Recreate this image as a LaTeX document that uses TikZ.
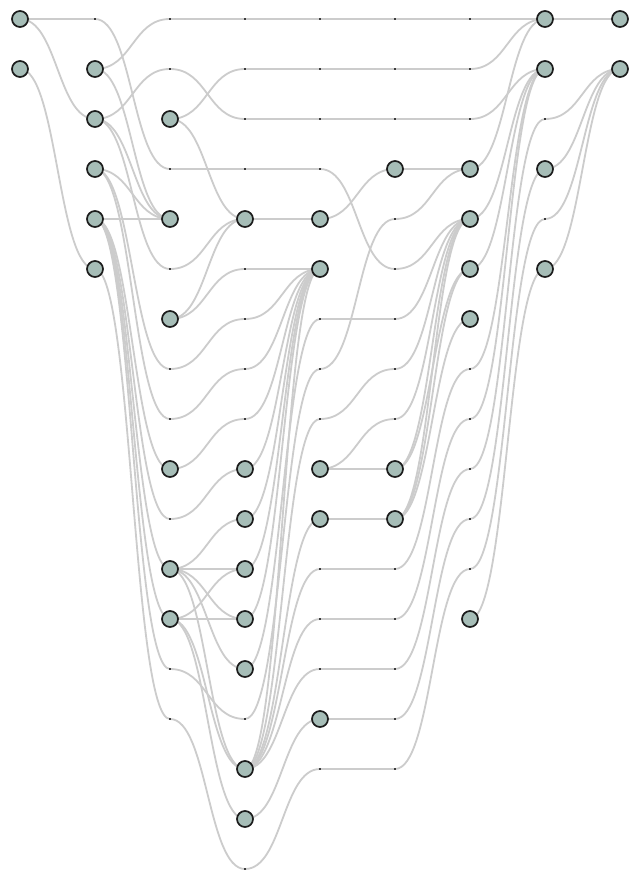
\documentclass[tikz,border=0pt]{standalone}
\usetikzlibrary{calc}
\pgfdeclarelayer{bg}
\pgfsetlayers{bg,main}
\definecolor{edgegray}{RGB}{204,204,204}
\definecolor{nodefill}{RGB}{166,189,183}
\definecolor{nodeline}{RGB}{28,28,28}
\definecolor{dummycol}{RGB}{60,60,60}
\tikzset{
  realn/.style={circle,draw=nodeline,fill=nodefill,line width=1.7pt,minimum size=16pt,inner sep=0pt},
  dummyn/.style={rectangle,fill=dummycol,minimum size=2.8pt,inner sep=0pt},
  edgeline/.style={draw=edgegray,line width=1.8pt}
}
\begin{document}
\begin{tikzpicture}[x=1pt,y=-1pt]
\useasboundingbox (0,0) rectangle (640,890);
% dummy points
\foreach \c/\r in {1/0,
  2/0,2/1,2/3,2/5,2/7,2/8,2/10,2/13,2/14,
  3/0,3/1,3/2,3/3,3/5,3/6,3/7,3/8,3/14,3/17,
  4/0,4/1,4/2,4/3,4/6,4/7,4/8,4/11,4/12,4/13,4/15,
  5/0,5/1,5/2,5/4,5/5,5/6,5/7,5/8,5/11,5/12,5/13,5/14,5/15,
  6/0,6/1,6/2,6/7,6/8,6/9,6/10,6/11,
  7/2,7/4}
  \node[dummyn] (p\c-\r) at ({20+75*\c},{19+50*\r}) {};
% real nodes
\foreach \c/\r in {0/0,0/1,
  1/1,1/2,1/3,1/4,1/5,
  2/2,2/4,2/6,2/9,2/11,2/12,
  3/4,3/9,3/10,3/11,3/12,3/13,3/15,3/16,
  4/4,4/5,4/9,4/10,4/14,
  5/3,5/9,5/10,
  6/3,6/4,6/5,6/6,6/12,
  7/0,7/1,7/3,7/5,
  8/0,8/1}
  \node[realn] (p\c-\r) at ({20+75*\c},{19+50*\r}) {};
% connectors
\begin{pgfonlayer}{bg}
\fill[white] (0,0) rectangle (640,890);
\foreach \a/\b in {
  0-0/1-0, 0-0/1-2, 0-1/1-5,
  1-0/2-3,
  1-1/2-0, 1-1/2-4,
  1-2/2-1, 1-2/2-4, 1-2/2-5,
  1-3/2-4, 1-3/2-7, 1-3/2-8,
  1-4/2-4, 1-4/2-9, 1-4/2-10, 1-4/2-11, 1-4/2-12, 1-4/2-13,
  1-5/2-14,
  2-0/3-0, 2-1/3-2, 2-3/3-3, 2-5/3-4, 2-7/3-6, 2-8/3-7, 2-10/3-9, 2-13/3-14, 2-14/3-17,
  2-2/3-1, 2-2/3-4,
  2-6/3-4, 2-6/3-5,
  2-9/3-8,
  2-11/3-10, 2-11/3-11, 2-11/3-12, 2-11/3-13, 2-11/3-15,
  2-12/3-11, 2-12/3-12, 2-12/3-15, 2-12/3-16,
  3-0/4-0, 3-1/4-1, 3-2/4-2, 3-3/4-3, 3-5/4-5, 3-6/4-5, 3-7/4-5, 3-8/4-5, 3-14/4-7, 3-17/4-15,
  3-4/4-4,
  3-9/4-5, 3-10/4-5, 3-11/4-5, 3-12/4-5, 3-13/4-6,
  3-15/4-5, 3-15/4-8, 3-15/4-10, 3-15/4-11, 3-15/4-12, 3-15/4-13,
  3-16/4-14,
  4-0/5-0, 4-1/5-1, 4-2/5-2, 4-3/5-5, 4-6/5-6, 4-7/5-4, 4-8/5-7, 4-11/5-11, 4-12/5-12, 4-13/5-13, 4-15/5-15,
  4-4/5-3, 4-9/5-8, 4-9/5-9, 4-10/5-10, 4-14/5-14,
  5-0/6-0, 5-1/6-1, 5-2/6-2, 5-4/6-3, 5-5/6-4, 5-6/6-4, 5-7/6-4, 5-8/6-4,
  5-11/6-7, 5-12/6-8, 5-13/6-9, 5-14/6-10, 5-15/6-11,
  5-3/6-3, 5-9/6-4, 5-9/6-5, 5-10/6-4, 5-10/6-5, 5-10/6-6,
  6-0/7-0, 6-1/7-0, 6-2/7-1, 6-7/7-1, 6-8/7-1, 6-9/7-2, 6-10/7-3, 6-11/7-4,
  6-3/7-0, 6-4/7-1, 6-5/7-1, 6-12/7-5,
  7-2/8-1, 7-4/8-1,
  7-0/8-0, 7-3/8-1, 7-5/8-1}
  \draw[edgeline] (p\a.center) .. controls +(37.5,0) and +(-37.5,0) .. (p\b.center);
\end{pgfonlayer}
\end{tikzpicture}
\end{document}
